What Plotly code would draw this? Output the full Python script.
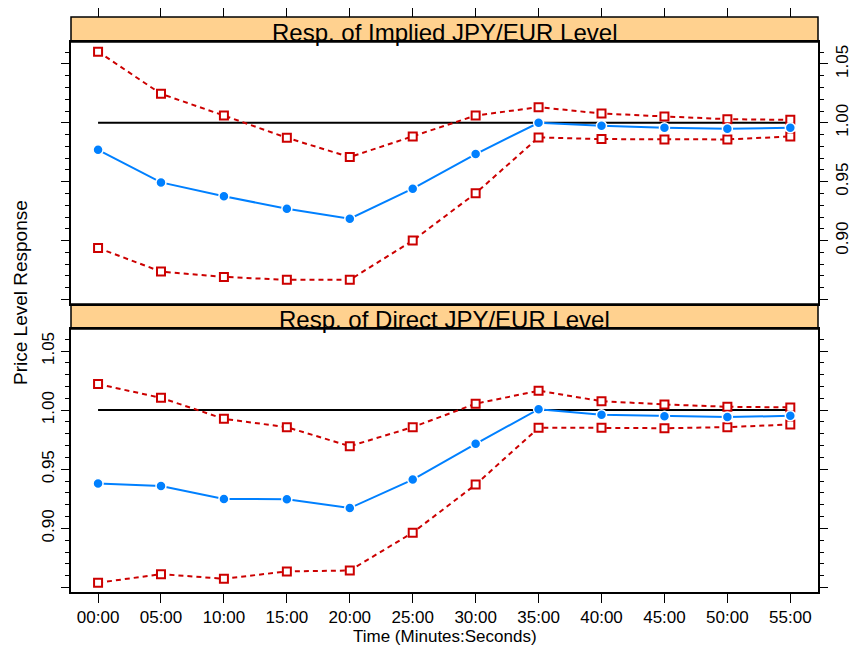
import plotly.graph_objects as go

# ---------------- data ----------------
times = ["00:00", "05:00", "10:00", "15:00", "20:00", "25:00",
         "30:00", "35:00", "40:00", "45:00", "50:00", "55:00"]

implied_resp = [0.9771, 0.9494, 0.9376, 0.9271, 0.9186, 0.9441,
                0.9735, 1.0000, 0.9975, 0.9958, 0.9949, 0.9958]
implied_upper = [1.0604, 1.0246, 1.0062, 0.9873, 0.9709, 0.9884,
                 1.0062, 1.0133, 1.0079, 1.0054, 1.0031, 1.0025]
implied_lower = [0.8938, 0.8737, 0.8692, 0.8667, 0.8667, 0.9000,
                 0.9402, 0.9876, 0.9862, 0.9859, 0.9859, 0.9884]

direct_resp = [0.9379, 0.9359, 0.9249, 0.9246, 0.9172, 0.9413,
               0.9715, 1.0008, 0.9960, 0.9949, 0.9941, 0.9952]
direct_upper = [1.0220, 1.0104, 0.9926, 0.9856, 0.9695, 0.9856,
                1.0054, 1.0164, 1.0076, 1.0048, 1.0028, 1.0023]
direct_lower = [0.8540, 0.8613, 0.8574, 0.8636, 0.8644, 0.8964,
                0.9370, 0.9850, 0.9850, 0.9847, 0.9856, 0.9879]

baseline = [1.0] * len(times)

y_tick_vals = [0.85, 0.90, 0.95, 1.00, 1.05]
y_tick_text = ["", "0.90", "0.95", "1.00", "1.05"]

panel_titles = ["Resp. of Implied JPY/EUR Level", "Resp. of Direct JPY/EUR Level"]

# ---------------- styles ----------------
W, H = 857, 648
BLUE = "#0080FF"
RED = "#CC0000"
STRIP = "#FFD18F"
FONT = "Liberation Sans, Arial, sans-serif"

def px_x(p):
    return p / W

def px_y(p):
    return 1 - p / H

x_dom = [px_x(71), px_x(818)]
top_dom = [px_y(304), px_y(42)]
bot_dom = [px_y(592), px_y(329)]
top_strip = [px_y(42), px_y(17)]
bot_strip = [px_y(329), px_y(304)]

fig = go.Figure()

def add_panel(xa, ya, resp, upper, lower):
    fig.add_trace(go.Scatter(x=times, y=baseline, mode="lines",
                             line=dict(color="black", width=2),
                             xaxis=xa, yaxis=ya, showlegend=False, hoverinfo="skip"))
    for series in (upper, lower):
        fig.add_trace(go.Scatter(x=times, y=series, mode="lines+markers",
                                 line=dict(color=RED, width=2, dash="5px,4px"),
                                 marker=dict(symbol="square", size=8, color="white",
                                             line=dict(color=RED, width=2)),
                                 xaxis=xa, yaxis=ya, showlegend=False))
    fig.add_trace(go.Scatter(x=times, y=resp, mode="lines+markers",
                             line=dict(color=BLUE, width=2),
                             marker=dict(symbol="circle", size=10, color=BLUE,
                                         line=dict(color="white", width=1.5)),
                             xaxis=xa, yaxis=ya, showlegend=False))

add_panel("x2", "y2", implied_resp, implied_upper, implied_lower)
add_panel("x", "y", direct_resp, direct_upper, direct_lower)

# invisible trace to activate the tick-only axis above the top strip
fig.add_trace(go.Scatter(x=times, y=baseline, mode="lines", line=dict(width=0),
                         opacity=0, xaxis="x3", yaxis="y2", showlegend=False,
                         hoverinfo="skip"))

x_range = [-0.43, 11.44]
y_range = [0.8462, 1.0686]

tickfont = dict(family=FONT, size=17, color="black")
minor = dict(ticks="outside", ticklen=4, tickwidth=1, tickcolor="black",
             dtick=0.01, tick0=0, showgrid=False)

common_y = dict(range=y_range, tickmode="array", tickvals=y_tick_vals,
                ticktext=y_tick_text, ticks="outside", ticklen=8, tickwidth=1,
                tickcolor="black", showline=True, linecolor="black", linewidth=1.5,
                mirror="ticks", showgrid=False, zeroline=False, tickangle=-90,
                tickfont=tickfont, minor=minor, automargin=False)

common_x = dict(domain=x_dom, range=x_range, type="category",
                categoryorder="array", categoryarray=times,
                showgrid=False, automargin=False)

fig.update_layout(
    width=W, height=H,
    margin=dict(l=0, r=0, t=0, b=0),
    paper_bgcolor="white", plot_bgcolor="white",
    font=dict(family=FONT, color="black"),
    xaxis=dict(anchor="y", ticks="outside", ticklen=9, tickwidth=1, tickcolor="black",
               showline=True, linecolor="black", linewidth=1.5, mirror=True,
               tickfont=tickfont, tickangle=0, **common_x),
    yaxis=dict(domain=bot_dom, anchor="x", side="left", **common_y),
    xaxis2=dict(anchor="y2", ticks="", showticklabels=False,
                showline=True, linecolor="black", linewidth=1.5, mirror=True,
                **common_x),
    yaxis2=dict(domain=top_dom, anchor="x2", side="right", **common_y),
    xaxis3=dict(overlaying="x2", anchor="free", position=top_strip[1], side="top",
                ticks="outside", ticklen=9, tickwidth=1, tickcolor="black",
                showticklabels=False, showline=False, **common_x),
)

for strip, title in ((top_strip, panel_titles[0]), (bot_strip, panel_titles[1])):
    fig.add_shape(type="rect", xref="paper", yref="paper",
                  x0=x_dom[0], x1=x_dom[1], y0=strip[0], y1=strip[1],
                  fillcolor=STRIP, line=dict(color="black", width=1.5), layer="below")
    fig.add_annotation(xref="paper", yref="paper", x=(x_dom[0] + x_dom[1]) / 2,
                       y=strip[0], xanchor="center", yanchor="bottom", yshift=-6,
                       text=title, showarrow=False,
                       font=dict(family=FONT, size=24, color="black"))

fig.add_annotation(xref="paper", yref="paper", x=px_x(20), y=px_y(293),
                   xanchor="center", yanchor="middle",
                   text="Price Level Response", textangle=-90, showarrow=False,
                   font=dict(family=FONT, size=19, color="black"))
fig.add_annotation(xref="paper", yref="paper", x=px_x(445), y=px_y(636),
                   xanchor="center", yanchor="middle",
                   text="Time (Minutes:Seconds)", showarrow=False,
                   font=dict(family=FONT, size=17, color="black"))

fig.write_html("out.html", config={"displayModeBar": False},
               post_script="document.body.style.margin='0';document.body.style.padding='0';")
